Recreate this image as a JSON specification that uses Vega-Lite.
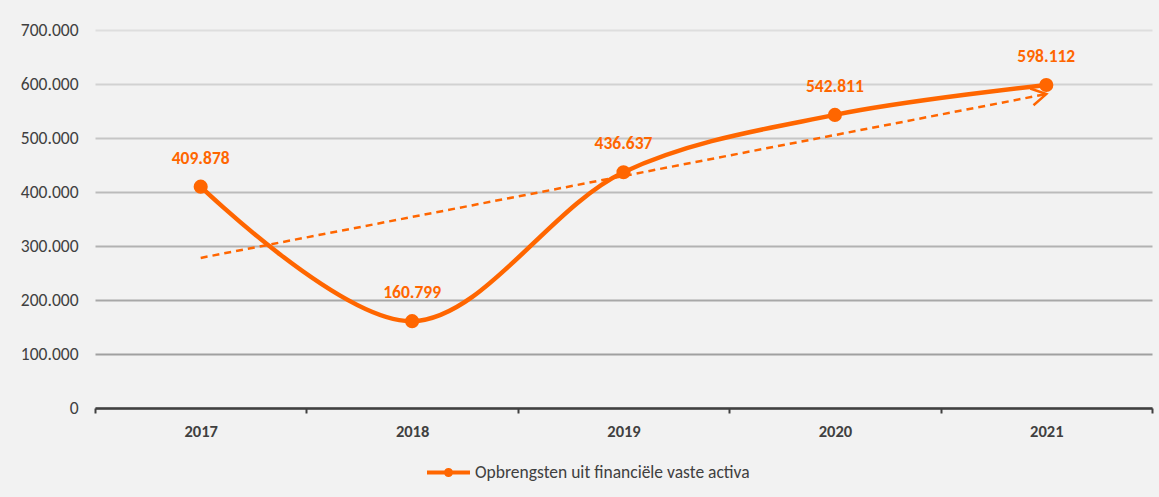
{
  "$schema": "https://vega.github.io/schema/vega-lite/v6.json",
  "width": 1057,
  "height": 378,
  "autosize": "none",
  "padding": {"left": 95, "top": 30, "right": 7, "bottom": 89},
  "background": "#f2f2f2",
  "config": {
    "view": {"stroke": null},
    "font": "Carlito, Lato, sans-serif",
    "locale": {"number": {"decimal": ",", "thousands": ".", "grouping": [3], "currency": ["€", ""]}}
  },
  "data": {
    "values": [
      {"year": 2017, "value": 409878},
      {"year": 2018, "value": 160799},
      {"year": 2019, "value": 436637},
      {"year": 2020, "value": 542811},
      {"year": 2021, "value": 598112}
    ]
  },
  "encoding": {
    "x": {
      "field": "year",
      "type": "ordinal",
      "bandPosition": 0.5,
      "scale": {"type": "band", "paddingInner": 0, "paddingOuter": 0},
      "axis": {
        "title": null,
        "labelAngle": 0,
        "tickBand": "extent",
        "grid": false,
        "domainColor": "#404040",
        "domainWidth": 2.5,
        "tickColor": "#404040",
        "tickWidth": 2,
        "tickSize": 5,
        "labelFontWeight": "bold",
        "labelFontSize": 16.5,
        "labelColor": "#404040",
        "labelPadding": 10
      }
    },
    "y": {
      "field": "value",
      "type": "quantitative",
      "scale": {"domain": [0, 700000], "nice": false},
      "axis": {
        "title": null,
        "values": [0, 100000, 200000, 300000, 400000, 500000, 600000, 700000],
        "format": ",d",
        "domain": false,
        "ticks": false,
        "labelPadding": 17,
        "labelFontSize": 17.5,
        "labelColor": "#404040",
        "gridWidth": 2,
        "gridColor": {
          "condition": [
            {"test": "datum.value >= 700000", "value": "#dedede"},
            {"test": "datum.value >= 600000", "value": "#d2d2d2"},
            {"test": "datum.value >= 500000", "value": "#c6c6c6"},
            {"test": "datum.value >= 400000", "value": "#bbbbbb"},
            {"test": "datum.value >= 300000", "value": "#b2b2b2"},
            {"test": "datum.value >= 200000", "value": "#a8a8a8"}
          ],
          "value": "#a0a0a0"
        }
      }
    }
  },
  "layer": [
    {
      "mark": {"type": "line", "interpolate": "catmull-rom", "strokeWidth": 4.5},
      "encoding": {
        "color": {
          "datum": "Opbrengsten uit financiële vaste activa",
          "type": "nominal",
          "scale": {"range": ["#ff6600"]},
          "legend": {
            "title": null,
            "orient": "none",
            "legendX": 330,
            "legendY": 419,
            "symbolType": "M-1,0L1,0M0.12,0A0.12,0.12,0,1,1,-0.12,0A0.12,0.12,0,1,1,0.12,0",
            "symbolSize": 1849,
            "symbolStrokeWidth": 4,
            "symbolFillColor": "#ff6600",
            "symbolStrokeColor": "#ff6600",
            "labelFontSize": 17.5,
            "labelLimit": 0,
            "labelColor": "#404040",
            "labelOffset": 3
          }
        }
      }
    },
    {
      "transform": [{"regression": "value", "on": "year"}],
      "mark": {"type": "line", "color": "#ff6600", "strokeWidth": 2.5, "strokeDash": [7, 5]},
      "encoding": {}
    },
    {
      "transform": [{"regression": "value", "on": "year"}, {"filter": "datum.year == 2021"}],
      "mark": {
        "type": "point",
        "shape": "M-2.4,-1.4L0,0L-2.4,1.4",
        "size": 150,
        "angle": -11,
        "filled": false,
        "color": "#ff6600",
        "strokeWidth": 2.5,
        "opacity": 1
      },
      "encoding": {}
    },
    {
      "mark": {"type": "point", "filled": true, "size": 200, "opacity": 1},
      "encoding": {
        "color": {"datum": "Opbrengsten uit financiële vaste activa", "type": "nominal"}
      }
    },
    {
      "mark": {"type": "text", "dy": -28, "fontWeight": "bold", "fontSize": 17.5, "color": "#ff6600"},
      "encoding": {"text": {"field": "value", "type": "quantitative", "format": ",d"}}
    }
  ]
}
